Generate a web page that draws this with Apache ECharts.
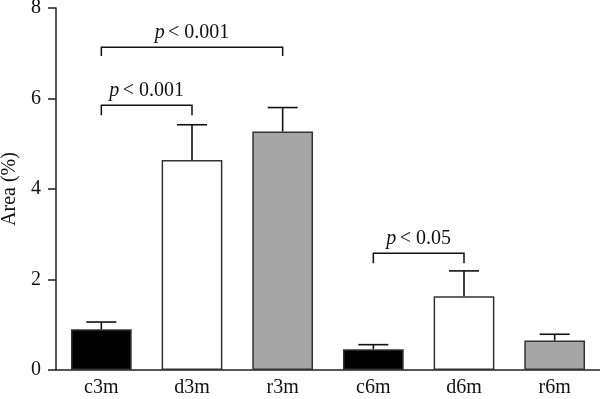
<!DOCTYPE html>
<html>
<head>
<meta charset="utf-8">
<script src="https://cdn.jsdelivr.net/npm/echarts@6/dist/echarts.min.js"></script>
<style>
  html, body { margin: 0; padding: 0; background: #fff; }
  #chart { width: 600px; height: 399px; }
</style>
</head>
<body>
<div id="chart"></div>
<script>
// groups and measured values (Area %)
const categories = ['c3m', 'd3m', 'r3m', 'c6m', 'd6m', 'r6m'];
const means = [0.90, 4.64, 5.27, 0.46, 1.63, 0.65];
const errTops = [1.06, 5.42, 5.80, 0.56, 2.19, 0.79];
const barColors = ['#000000', '#ffffff', '#a6a6a6', '#000000', '#ffffff', '#a6a6a6'];
const yTicks = [0, 2, 4, 6, 8];

// significance brackets: [from index, to index, bar height, leg bottom, label]
const brackets = [
  [0, 2, 7.13, 6.94, '< 0.001'],
  [0, 1, 5.85, 5.63, '< 0.001'],
  [3, 4, 2.58, 2.36, '< 0.05']
];

const FONT = 'Liberation Serif';
const chart = echarts.init(document.getElementById('chart'));

const option = {
  animation: false,
  backgroundColor: '#fff',
  grid: { left: 56, right: 0, top: 8, bottom: 29, outerBoundsMode: 'none' },
  xAxis: {
    type: 'category',
    data: categories,
    axisLine: { lineStyle: { color: '#222', width: 1.5 } },
    axisTick: { alignWithLabel: true, length: 5, lineStyle: { color: '#222', width: 1.5 } },
    axisLabel: { color: '#111', fontFamily: FONT, fontSize: 20, margin: 8 }
  },
  yAxis: {
    type: 'value',
    min: 0, max: 8, interval: 2,
    name: 'Area (%)',
    nameLocation: 'middle',
    nameGap: 34,
    nameTextStyle: { color: '#111', fontFamily: FONT, fontSize: 20 },
    axisLine: { show: true, lineStyle: { color: '#222', width: 1.5 } },
    axisTick: { show: true, length: 8, lineStyle: { color: '#222', width: 1.5 } },
    axisLabel: {
      color: '#111', fontFamily: FONT, fontSize: 20, margin: 15,
      formatter: v => yTicks.includes(v) ? String(v) : ''
    },
    splitLine: { show: false }
  },
  series: [
    {
      type: 'bar',
      barWidth: '67%',
      data: means.map((v, i) => ({
        value: v,
        itemStyle: { color: barColors[i], borderColor: '#333', borderWidth: 1.5 }
      })),
      z: 2
    },
    {
      // upper error bars
      type: 'custom',
      data: means.map((v, i) => [i, v, errTops[i]]),
      renderItem: (params, api) => {
        const base = api.coord([api.value(0), api.value(1)]);
        const top = api.coord([api.value(0), api.value(2)]);
        const half = 15;
        const style = { stroke: '#111', lineWidth: 1.6 };
        return {
          type: 'group',
          children: [
            { type: 'line', shape: { x1: base[0], y1: base[1], x2: top[0], y2: top[1] }, style },
            { type: 'line', shape: { x1: top[0] - half, y1: top[1], x2: top[0] + half, y2: top[1] }, style }
          ]
        };
      },
      z: 3
    },
    {
      // significance brackets
      type: 'custom',
      data: brackets,
      renderItem: (params, api) => {
        const b = brackets[params.dataIndex];
        const p1 = api.coord([b[0], b[2]]);
        const p2 = api.coord([b[1], b[2]]);
        const leg = api.coord([b[0], b[3]]);
        const style = { stroke: '#111', lineWidth: 1.5, fill: null };
        const cx = (p1[0] + p2[0]) / 2;
        return {
          type: 'group',
          children: [
            {
              type: 'polyline',
              shape: { points: [[p1[0], leg[1]], [p1[0], p1[1]], [p2[0], p2[1]], [p2[0], leg[1]]] },
              style
            },
            {
              type: 'text',
              x: cx, y: p1[1] - 5,
              style: {
                rich: {
                  p: { fontStyle: 'italic', fontFamily: FONT, fontSize: 20, fill: '#111' },
                  t: { fontFamily: FONT, fontSize: 20, fill: '#111' }
                },
                text: '{p|p} {t|' + b[4] + '}',
                align: 'center',
                verticalAlign: 'bottom'
              }
            }
          ]
        };
      },
      z: 4
    }
  ]
};

chart.setOption(option);
</script>
</body>
</html>
